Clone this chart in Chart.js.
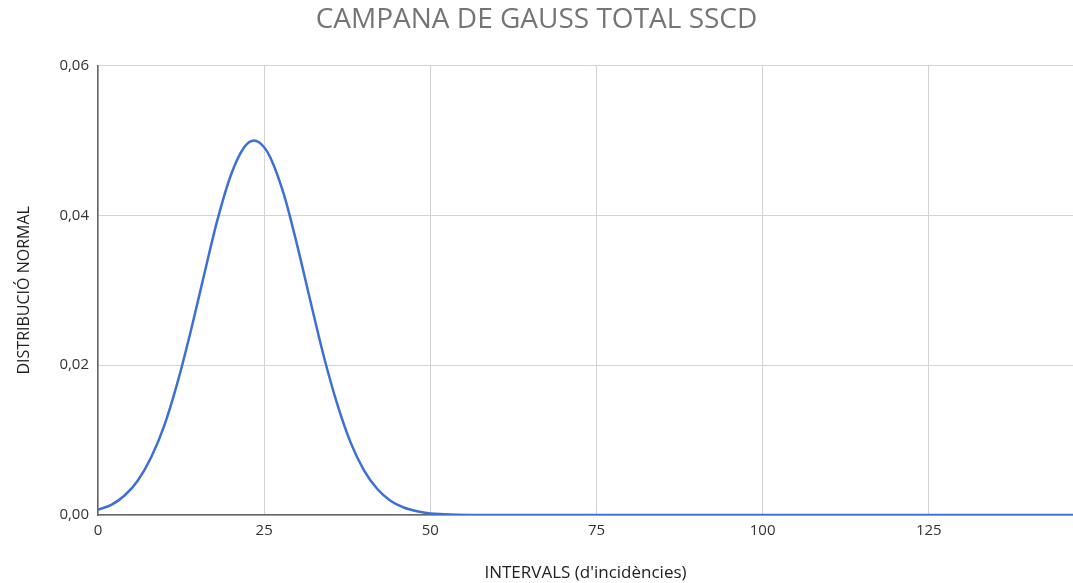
<!DOCTYPE html>
<html>
<head>
<meta charset="utf-8">
<script src="https://cdn.jsdelivr.net/npm/chart.js@4"></script>
<style>
  html, body { margin: 0; padding: 0; background: #fff; }
  #wrap { width: 1073px; height: 583px; }
</style>
</head>
<body>
<div id="wrap"><canvas id="gaussChart" width="1073" height="583"></canvas></div>
<script>
// Valors llegits del gràfic
const intervals = [0, 2, 4, 6, 8, 10, 12, 14, 16, 18, 20, 22, 23.5, 25, 26, 28, 30, 32, 34, 36, 38, 40, 42, 44, 46, 48, 50, 52, 54, 56, 60, 146.7];
const distribucio = [0.0007, 0.00135, 0.0026, 0.0046, 0.0077, 0.0120, 0.0178, 0.0247, 0.0322, 0.0395, 0.0454, 0.0491, 0.0500, 0.0491, 0.0476, 0.0427, 0.0359, 0.0284, 0.0211, 0.0148, 0.0097, 0.0060, 0.0035, 0.0019, 0.0010, 0.0005, 0.0002, 0.0001, 0.00003, 0.00001, 0, 0];
const xTicks = [0, 25, 50, 75, 100, 125];
const yTicks = [0, 0.02, 0.04, 0.06];

const punts = intervals.map((x, i) => ({ x: x, y: distribucio[i] }));

const ctx = document.getElementById('gaussChart').getContext('2d');
new Chart(ctx, {
  type: 'line',
  data: {
    datasets: [{
      label: 'Distribució normal',
      data: punts,
      borderColor: '#3d6fd5',
      borderWidth: 2.5,
      pointRadius: 0,
      fill: false,
      cubicInterpolationMode: 'monotone'
    }]
  },
  options: {
    responsive: false,
    animation: false,
    layout: { padding: { top: 0, right: 0, bottom: 0, left: 0 } },
    plugins: {
      legend: { display: false },
      tooltip: { enabled: false },
      title: {
        display: true,
        text: 'CAMPANA DE GAUSS TOTAL SSCD',
        color: '#757575',
        font: { family: 'Open Sans', size: 28, weight: 'normal', lineHeight: 1.2 },
        padding: { top: 3, bottom: 29 }
      }
    },
    scales: {
      x: {
        type: 'linear',
        min: 0,
        max: 146.7,
        afterBuildTicks: axis => { axis.ticks = xTicks.map(v => ({ value: v })); },
        afterFit: axis => { axis.height = 68; },
        grid: { color: '#d3d3d3', drawTicks: false },
        border: { color: '#666', width: 1.5 },
        ticks: {
          color: '#333',
          padding: 7,
          font: { family: 'Open Sans', size: 15 },
          maxRotation: 0
        },
        title: {
          display: true,
          text: "INTERVALS (d'incidències)",
          color: '#222',
          font: { family: 'Open Sans', size: 17 },
          padding: { top: 15, bottom: 0 }
        }
      },
      y: {
        min: 0,
        max: 0.06,
        afterBuildTicks: axis => { axis.ticks = yTicks.map(v => ({ value: v })); },
        afterFit: axis => { axis.width = 98; },
        grid: { color: '#d3d3d3', drawTicks: false },
        border: { color: '#666', width: 1.5 },
        ticks: {
          color: '#333',
          padding: 9,
          font: { family: 'Open Sans', size: 15 },
          callback: v => v.toFixed(2).replace('.', ',')
        },
        title: {
          display: true,
          text: 'DISTRIBUCIÓ NORMAL',
          color: '#222',
          font: { family: 'Open Sans', size: 16 },
          padding: { top: 15, bottom: 0 }
        }
      }
    }
  }
});
</script>
</body>
</html>
